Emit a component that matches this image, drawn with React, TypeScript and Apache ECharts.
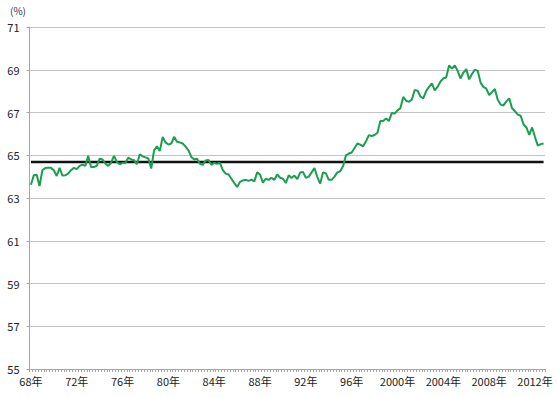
import React, { useEffect, useRef } from "react";
import * as echarts from "echarts";

// Quarterly values, 1968Q1 – 2012Q4 (%)
const rate: number[] = [
  // 1968-1975
  63.62, 64.06, 64.09, 63.56, 64.3, 64.4, 64.41, 64.41, 64.3, 64.03, 64.41, 64.05, 64.06, 64.14, 64.3, 64.41,
  64.35, 64.5, 64.56, 64.5, 64.97, 64.45, 64.45, 64.5, 64.84, 64.8, 64.6, 64.5, 64.65, 64.97, 64.69, 64.58,
  // 1976-1983
  64.64, 64.64, 64.89, 64.8, 64.77, 64.58, 65.05, 64.95, 64.9, 64.85, 64.38, 65.23, 65.42, 65.2, 65.86, 65.6,
  65.5, 65.55, 65.86, 65.63, 65.6, 65.55, 65.4, 65.23, 64.92, 64.8, 64.84, 64.6, 64.55, 64.75, 64.78, 64.55,
  // 1984-1991
  64.64, 64.6, 64.64, 64.3, 64.14, 64.1, 63.9, 63.7, 63.52, 63.75, 63.82, 63.85, 63.8, 63.86, 63.78, 64.2,
  64.1, 63.72, 63.9, 63.85, 63.95, 63.85, 64.1, 63.95, 63.9, 63.7, 64.06, 63.94, 64.05, 63.88, 64.19, 64.22,
  // 1992-1999
  63.94, 64.0, 64.2, 64.4, 63.98, 63.67, 64.2, 64.15, 63.85, 63.85, 64.0, 64.2, 64.25, 64.5, 65.0, 65.08,
  65.13, 65.34, 65.55, 65.5, 65.42, 65.65, 65.94, 65.9, 65.95, 66.05, 66.6, 66.6, 66.72, 66.6, 66.98, 66.95,
  // 2000-2007
  67.1, 67.2, 67.73, 67.55, 67.5, 67.6, 68.05, 68.02, 67.75, 67.66, 68.0, 68.2, 68.36, 68.03, 68.2, 68.45,
  68.6, 68.64, 69.2, 69.05, 69.2, 68.95, 68.59, 68.87, 69.03, 68.55, 68.8, 69.0, 68.95, 68.4, 68.2, 68.12,
  // 2008-2012
  67.82, 67.95, 68.1, 67.6, 67.37, 67.33, 67.52, 67.66, 67.2, 67.06, 66.9, 66.85, 66.45, 66.3, 65.95, 66.3,
  65.85, 65.45, 65.52, 65.55,
];

const averageRate = 64.68;
const startYear = 1968;
const tickLabels: string[] = ["68年", "72年", "76年", "80年", "84年", "88年", "92年", "96年", "2000年", "2004年", "2008年", "2012年"];
const yTicks: number[] = [55, 57, 59, 61, 63, 65, 67, 69, 71];

const categories: string[] = rate.map((_, i) => `${startYear + Math.floor(i / 4)}Q${(i % 4) + 1}`);
const averageLine: number[] = rate.map(() => averageRate);

const FONT = '"Noto Sans CJK JP", "Noto Sans", sans-serif';

export default function App() {
  const ref = useRef<HTMLDivElement>(null);
  useEffect(() => {
    document.body.style.margin = "0";
    const chart = echarts.init(ref.current!, null, { renderer: "svg" });
    chart.setOption({
      animation: false,
      backgroundColor: "#ffffff",
      grid: { left: 29.5, right: 12, top: 27, bottom: 28, containLabel: false },
      graphic: [
        {
          type: "text",
          left: 10,
          top: 5,
          style: { text: "(%)", fontSize: 10, fill: "#333", fontFamily: FONT },
        },
      ],
      xAxis: {
        type: "category",
        data: categories,
        boundaryGap: true,
        axisLine: { show: true, lineStyle: { color: "#a6a6a6", width: 1 } },
        axisTick: { show: true, interval: 0, length: 3, lineStyle: { color: "#a6a6a6" } },
        axisLabel: {
          interval: (idx: number) => idx % 16 === 0,
          formatter: (_v: string, idx: number) => tickLabels[Math.floor(idx / 16)] ?? "",
          fontSize: 11,
          color: "#222",
          margin: 6,
          fontFamily: FONT,
        },
        splitLine: { show: false },
      },
      yAxis: {
        type: "value",
        min: yTicks[0],
        max: yTicks[yTicks.length - 1],
        interval: 2,
        axisLine: { show: true, lineStyle: { color: "#a6a6a6", width: 1 } },
        axisTick: { show: true, length: 3, lineStyle: { color: "#a6a6a6" } },
        axisLabel: { fontSize: 11, color: "#222", margin: 10, fontFamily: FONT },
        splitLine: { show: true, lineStyle: { color: "#c4c4c4", width: 1 } },
      },
      series: [
        {
          type: "line",
          data: averageLine,
          showSymbol: false,
          symbol: "none",
          lineStyle: { color: "#111111", width: 2.5 },
          z: 2,
        },
        {
          type: "line",
          data: rate,
          showSymbol: false,
          symbol: "none",
          lineStyle: { color: "#1a9f50", width: 2 },
          z: 3,
        },
      ],
    });
    return () => chart.dispose();
  }, []);
  return <div ref={ref} style={{ width: 557, height: 397 }} />;
}
